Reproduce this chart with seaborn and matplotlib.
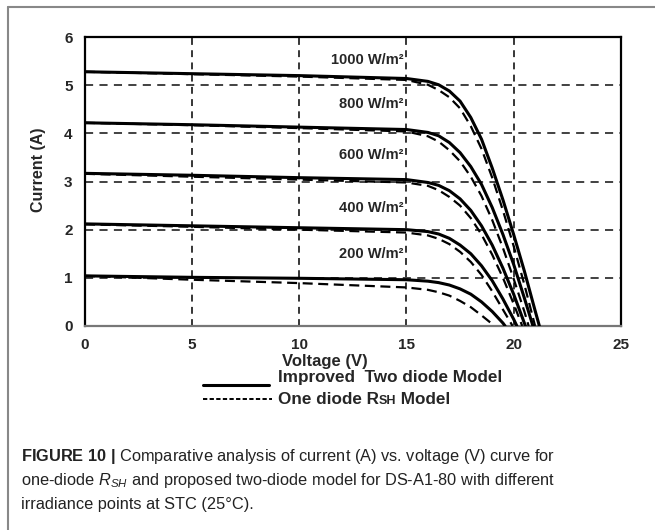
import matplotlib
matplotlib.use("Agg")
import matplotlib.pyplot as plt
import seaborn as sns
import pandas as pd

# shared voltage points (V)
volts = [0, 5, 10, 15, 16, 16.5, 17, 17.5, 18, 18.5, 19, 19.5, 20, 20.5, 21]
irradiance = [1000, 800, 600, 400, 200]

# improved two diode model: current (A) at each voltage point, then Voc
two_1000 = [5.28, 5.24, 5.20, 5.14, 5.08, 5.01, 4.88, 4.67, 4.33, 3.88, 3.28, 2.62, 1.90, 1.14, 0.32]
two_800 = [4.22, 4.18, 4.13, 4.08, 4.02, 3.95, 3.81, 3.60, 3.31, 2.94, 2.46, 1.90, 1.28, 0.58]
two_600 = [3.17, 3.13, 3.08, 3.04, 2.98, 2.92, 2.81, 2.64, 2.40, 2.08, 1.68, 1.20, 0.66]
two_400 = [2.12, 2.08, 2.04, 2.00, 1.96, 1.91, 1.82, 1.68, 1.50, 1.25, 0.94, 0.56, 0.14]
two_200 = [1.04, 1.01, 0.99, 0.96, 0.93, 0.90, 0.85, 0.77, 0.66, 0.50, 0.30, 0.06]
voc_two = [21.2, 20.9, 20.55, 20.15, 19.6]

# one diode RSH model
one_1000 = [5.28, 5.23, 5.18, 5.11, 5.01, 4.90, 4.75, 4.52, 4.15, 3.68, 3.08, 2.40, 1.66, 0.86]
one_800 = [4.22, 4.17, 4.11, 4.04, 3.94, 3.83, 3.65, 3.42, 3.10, 2.70, 2.20, 1.62, 0.98, 0.30]
one_600 = [3.16, 3.10, 3.04, 2.98, 2.91, 2.82, 2.68, 2.50, 2.24, 1.90, 1.48, 1.00, 0.46]
one_400 = [2.11, 2.06, 2.00, 1.94, 1.88, 1.81, 1.70, 1.54, 1.33, 1.06, 0.72, 0.34]
one_200 = [1.04, 0.96, 0.89, 0.80, 0.75, 0.70, 0.63, 0.52, 0.39, 0.22, 0.04]
voc_one = [21.0, 20.7, 20.4, 19.95, 19.1]

x_ticks = [0, 5, 10, 15, 20, 25]
y_ticks = [0, 1, 2, 3, 4, 5, 6]


def build(currents, vocs, model):
    rows = []
    for g, cur, voc in zip(irradiance, currents, vocs):
        for v, i in zip(volts, cur):
            rows.append((g, v, i, model))
        rows.append((g, voc, 0.0, model))
    return pd.DataFrame(rows, columns=["G", "V", "I", "model"])


df_two = build([two_1000, two_800, two_600, two_400, two_200], voc_two, "two")
df_one = build([one_1000, one_800, one_600, one_400, one_200], voc_one, "one")

sns.set_theme(style="white")
plt.rcParams["font.family"] = ["Liberation Sans", "DejaVu Sans"]
plt.rcParams["mathtext.fontset"] = "custom"
plt.rcParams["mathtext.rm"] = "Liberation Sans"
plt.rcParams["mathtext.it"] = "Liberation Sans:italic"
plt.rcParams["mathtext.bf"] = "Liberation Sans:bold"

fig = plt.figure(figsize=(6.55, 5.3), dpi=100)
ax = fig.add_axes([0.1298, 0.385, 0.818, 0.545])

sns.lineplot(data=df_two, x="V", y="I", units="G", estimator=None, color="black",
             lw=2.2, ax=ax, zorder=3)
sns.lineplot(data=df_one, x="V", y="I", units="G", estimator=None, color="black",
             lw=1.6, ax=ax, zorder=3, linestyle=(0, (4.5, 2.5)))

ax.set_xlim(0, 25)
ax.set_ylim(0, 6)
ax.set_xticks(x_ticks)
ax.set_yticks(y_ticks)
ax.set_xlabel("")
ax.set_ylabel("")
for lab in ax.get_xticklabels() + ax.get_yticklabels():
    lab.set_fontweight("bold")
    lab.set_fontsize(11)
ax.tick_params(axis="x", length=0, pad=9)
ax.tick_params(axis="y", length=3, width=1, direction="out", pad=6, color="black")

for x in x_ticks[1:-1]:
    ax.axvline(x, color="black", lw=1.1, ls=(0, (4.5, 3.5)), zorder=1)
for y in y_ticks[1:-1]:
    ax.axhline(y, color="#333333", lw=1.3, ls=(0, (4.5, 3.5)), zorder=1)

for s in ax.spines.values():
    s.set_color("black")
    s.set_linewidth(1.6)
ax.spines["bottom"].set_color("#777777")

label_y = [5.52, 4.62, 3.55, 2.44, 1.49]
for g, y in zip(irradiance, label_y):
    ax.text(14.85, y, f"{g} W/m²", ha="right", va="center", fontsize=10.5,
            fontweight="bold", zorder=4)

fig.text(0.059, 0.68, "Current (A)", rotation=90, ha="center", va="center",
         fontsize=11.5, fontweight="bold")
fig.text(0.496, 0.318, "Voltage (V)", ha="center", va="center",
         fontsize=12, fontweight="bold")

# legend drawn by hand
fig.add_artist(plt.Line2D([0.31, 0.41], [0.273, 0.273], color="black", lw=2.2))
fig.add_artist(plt.Line2D([0.31, 0.415], [0.247, 0.247], color="black", lw=1.4,
                          ls=(0, (2.2, 1.2))))
fig.text(0.424, 0.287, "Improved  Two diode Model", ha="left", va="center",
         fontsize=12.3, fontweight="bold")
t1 = fig.text(0.424, 0.247, "One diode R", ha="left", va="center",
              fontsize=12.3, fontweight="bold")
t2 = ax.annotate("SH", xy=(1, 0), xycoords=t1, ha="left", va="bottom",
                 fontsize=9, fontweight="bold", annotation_clip=False)
ax.annotate(" Model", xy=(1, 0), xycoords=t2, ha="left", va="bottom",
            fontsize=12.3, fontweight="bold", annotation_clip=False)

# caption
fig.text(0.032, 0.138,
         r"$\mathbf{FIGURE\ 10\ |}$ Comparative analysis of current (A) vs. voltage (V) curve for",
         ha="left", va="center", fontsize=11.8, color="#222222")
fig.text(0.032, 0.093,
         r"one-diode $R_{SH}$ and proposed two-diode model for DS-A1-80 with different",
         ha="left", va="center", fontsize=11.8, color="#222222")
fig.text(0.032, 0.048, "irradiance points at STC (25°C).",
         ha="left", va="center", fontsize=11.8, color="#222222")

# frame of the figure panel
fig.add_artist(plt.Line2D([0.0115, 0.0115], [0.0, 0.987], color="#888888", lw=1.5))
fig.add_artist(plt.Line2D([0.0115, 1.0], [0.987, 0.987], color="#888888", lw=1.5))

fig.savefig("out.png", dpi=100)
